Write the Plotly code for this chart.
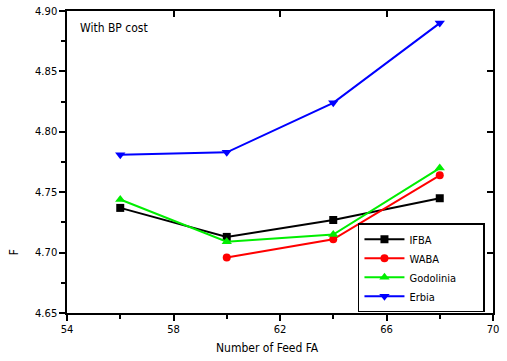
import plotly.graph_objects as go

feed_fa = [56, 60, 64, 68]
ifba = [4.737, 4.713, 4.727, 4.745]
waba = [None, 4.696, 4.711, 4.764]
godolinia = [4.744, 4.709, 4.715, 4.770]
erbia = [4.781, 4.783, 4.824, 4.890]

series = [
    ("IFBA", ifba, "black", "square", 8),
    ("WABA", waba, "red", "circle", 8),
    ("Godolinia", godolinia, "#00ee00", "triangle-up", 9),
    ("Erbia", erbia, "blue", "triangle-down", 9),
]

narrow = "DejaVu Sans Condensed, Liberation Sans"
tickfont = dict(family="DejaVu Sans", size=10, color="black")
pad = "\u00a0" * 7

fig = go.Figure()
for name, ys, col, sym, sz in series:
    fig.add_trace(go.Scatter(
        x=feed_fa, y=ys, name=name + (pad if name == "Godolinia" else ""),
        mode="lines+markers",
        line=dict(color=col, width=2),
        marker=dict(symbol=sym, size=sz, color=col),
        connectgaps=False,
    ))

fig.add_trace(go.Scatter(x=feed_fa, y=erbia, xaxis="x2", yaxis="y2",
                         mode="markers", marker=dict(opacity=0),
                         showlegend=False, hoverinfo="skip"))

fig.update_layout(
    width=507, height=361,
    margin=dict(l=67, r=14, t=5, b=48),
    paper_bgcolor="white", plot_bgcolor="white",
    showlegend=True,
    xaxis=dict(range=[54, 70], dtick=4, tick0=54, ticks="outside", ticklen=6,
               tickwidth=1.5, tickcolor="black", showline=True, linewidth=1.5,
               linecolor="black", mirror=True, showgrid=False, zeroline=False,
               tickfont=tickfont,
               minor=dict(dtick=2, ticks="outside", ticklen=4, tickwidth=1.5, tickcolor="black")),
    yaxis=dict(range=[4.65, 4.90], dtick=0.05, tick0=4.65, ticks="outside", ticklen=6,
               tickwidth=1.5, tickcolor="black", showline=True, linewidth=1.5,
               linecolor="black", mirror=True, showgrid=False, zeroline=False,
               tickformat=".2f", tickfont=tickfont,
               minor=dict(dtick=0.025, ticks="outside", ticklen=4, tickwidth=1.5, tickcolor="black")),
    xaxis2=dict(range=[54, 70], dtick=4, tick0=54, overlaying="x", side="top", anchor="y2",
                ticks="inside", ticklen=6, tickwidth=1.5, tickcolor="black",
                showticklabels=False, showline=False, showgrid=False, zeroline=False),
    yaxis2=dict(range=[4.65, 4.90], dtick=0.05, tick0=4.65, overlaying="y", side="right",
                anchor="x2", ticks="inside", ticklen=6, tickwidth=1.5, tickcolor="black",
                showticklabels=False, showline=False, showgrid=False, zeroline=False),
    legend=dict(x=0.683, y=0.297, xanchor="left", yanchor="top",
                bordercolor="black", borderwidth=1.5, bgcolor="white",
                font=dict(family=narrow, size=11, color="black"),
                tracegroupgap=0, itemwidth=40),
    annotations=[
        dict(text="With BP cost", xref="paper", yref="paper", x=0.026, y=0.945,
             xanchor="left", yanchor="middle", showarrow=False,
             font=dict(family=narrow, size=12, color="black")),
        dict(text="Number of Feed FA", xref="paper", yref="paper", x=0.47, y=-0.115,
             xanchor="center", yanchor="middle", showarrow=False,
             font=dict(family=narrow, size=12, color="black")),
        dict(text="F", xref="paper", yref="paper", x=-0.125, y=0.2, textangle=-90,
             xanchor="center", yanchor="middle", showarrow=False,
             font=dict(family=narrow, size=12, color="black")),
    ],
)

fig.write_html("out.html")
